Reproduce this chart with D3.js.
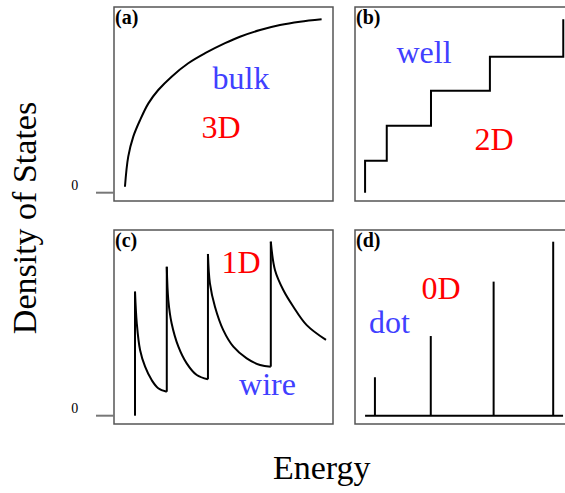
<!DOCTYPE html>
<html>
<head>
<meta charset="utf-8">
<script src="https://cdn.jsdelivr.net/npm/d3@7"></script>
<style>
  html, body { margin: 0; padding: 0; background: #fff; }
  svg { display: block; }
  text { font-family: "Liberation Serif", "Times New Roman", serif; }
</style>
</head>
<body>
<svg id="chart" width="565" height="493"></svg>
<script>
// Density of states vs. energy for bulk (3D), well (2D), wire (1D) and dot (0D).
// Energy and DOS are in arbitrary units: 0..100 across each panel.

// (a) bulk: smooth rising curve
const bulkEnergy = [5.0, 6.5, 8.8, 11.9, 15.7, 20.2, 26.3, 33.9, 41.6, 50.7, 57.5, 66.7, 75.8, 84.9, 94.8];
const bulkDos    = [3.2, 19.4, 30.2, 39.1, 48.1, 55.3, 62.5, 69.7, 75.1, 80.5, 84.0, 87.6, 90.3, 92.1, 93.4];

// (b) well: staircase, each step opens at a subband edge
const wellEdges  = [4.6, 4.6, 14.5, 34.7, 61.6, 95.1];
const wellLevels = [0, 17.2, 36.1, 54.9, 73.2, 93.4];

// (c) wire: subband onsets and the decaying tail after each one
const wireOnsets   = [9.6, 24.1, 42.9, 71.6];
const wireBases    = [0, 12.9, 19.6, 26.4];
const wirePeaks    = [66.8, 80.2, 87.1, 93.7];
const wireTailE = [
  [9.6, 10.4, 11.9, 14.2, 17.2, 20.2, 24.1],
  [24.1, 24.8, 26.3, 29.4, 33.2, 37.8, 42.9],
  [42.9, 43.8, 46.1, 49.9, 54.5, 60.6, 66.7, 71.6],
  [71.6, 73.5, 77.3, 81.9, 88.0, 96.8]
];
const wireTailDos = [
  [66.8, 49.8, 35.4, 26.4, 19.2, 14.8, 12.9],
  [80.2, 62.3, 49.8, 37.2, 28.2, 21.9, 19.6],
  [87.1, 71.3, 58.7, 46.1, 37.2, 30.9, 27.3, 26.4],
  [93.7, 78.5, 67.7, 58.7, 48.8, 40.8]
];

// (d) dot: discrete levels
const dotEnergy = [9.1, 34.6, 63.3, 90.5];
const dotDos    = [20.7, 42.9, 72.2, 93.7];
const dotBaseline = [4.6, 95.0];

const panelTags = ["(a)", "(b)", "(c)", "(d)"];
const zeroTick = "0";
const xTitle = "Energy";
const yTitle = "Density of States";

const BLUE = "#4040ff", RED = "#ff0000";

const svg = d3.select("#chart");

// panel layout
const colLeft = [114, 355], rowTop = [7, 230];
const pw = 219, ph = 194, zeroInset = 8.3;

function panel(col, row) {
  const x0 = colLeft[col], y0 = rowTop[row];
  const x = d3.scaleLinear().domain([0, 100]).range([x0, x0 + pw]);
  const y = d3.scaleLinear().domain([0, 100]).range([y0 + ph - zeroInset, y0]);
  const g = svg.append("g");
  g.append("rect")
    .attr("x", x0).attr("y", y0).attr("width", pw).attr("height", ph)
    .attr("fill", "none").attr("stroke", "#555").attr("stroke-width", 1.5);
  return { g, x, y, x0, y0 };
}

const pa = panel(0, 0), pb = panel(1, 0), pc = panel(0, 1), pd = panel(1, 1);

const curveStyle = sel => sel.attr("fill", "none").attr("stroke", "#000")
  .attr("stroke-width", 2).attr("stroke-linejoin", "round");

const smooth = d3.curveCatmullRom.alpha(0.5);

// (a)
pa.g.append("path")
  .datum(d3.zip(bulkEnergy, bulkDos))
  .attr("d", d3.line().x(d => pa.x(d[0])).y(d => pa.y(d[1])).curve(smooth))
  .call(curveStyle);

// (b)
pb.g.append("path")
  .datum(d3.zip(wellEdges, wellLevels))
  .attr("d", d3.line().x(d => pb.x(d[0])).y(d => pb.y(d[1])).curve(d3.curveStepAfter))
  .call(curveStyle).attr("stroke-linejoin", "miter");

// (c)
wireOnsets.forEach((e, i) => {
  pc.g.append("line")
    .attr("x1", pc.x(e)).attr("x2", pc.x(e))
    .attr("y1", pc.y(wireBases[i])).attr("y2", pc.y(wirePeaks[i]))
    .call(curveStyle);
  pc.g.append("path")
    .datum(d3.zip(wireTailE[i], wireTailDos[i]))
    .attr("d", d3.line().x(d => pc.x(d[0])).y(d => pc.y(d[1])).curve(smooth))
    .call(curveStyle);
});

// (d)
pd.g.append("line")
  .attr("x1", pd.x(dotBaseline[0])).attr("x2", pd.x(dotBaseline[1]))
  .attr("y1", pd.y(0)).attr("y2", pd.y(0))
  .call(curveStyle);
dotEnergy.forEach((e, i) => {
  pd.g.append("line")
    .attr("x1", pd.x(e)).attr("x2", pd.x(e))
    .attr("y1", pd.y(0)).attr("y2", pd.y(dotDos[i]))
    .call(curveStyle);
});

// panel tags
[pa, pb, pc, pd].forEach((p, i) => {
  p.g.append("text")
    .attr("x", p.x0 + 1).attr("y", p.y0 + 17)
    .attr("font-size", 20).attr("font-weight", "bold")
    .text(panelTags[i]);
});

// zero ticks on the left
[pa, pc].forEach(p => {
  svg.append("line")
    .attr("x1", p.x0 - 18).attr("x2", p.x0)
    .attr("y1", p.y(0)).attr("y2", p.y(0))
    .attr("stroke", "#777").attr("stroke-width", 2);
  svg.append("text")
    .attr("x", 74.7).attr("y", p.y(0) - 2.7)
    .attr("text-anchor", "middle").attr("font-size", 14)
    .text(zeroTick);
});

// in-panel labels
const labels = [
  { t: "bulk", x: 241, y: 88.5, c: BLUE },
  { t: "3D",   x: 221, y: 137.5, c: RED },
  { t: "well", x: 424, y: 63, c: BLUE },
  { t: "2D",   x: 494, y: 150, c: RED },
  { t: "1D",   x: 241, y: 273, c: RED },
  { t: "wire", x: 267.5, y: 395, c: BLUE },
  { t: "0D",   x: 441, y: 299, c: RED },
  { t: "dot",  x: 389.5, y: 333, c: BLUE }
];
svg.selectAll("text.lab").data(labels).join("text")
  .attr("class", "lab")
  .attr("x", d => d.x).attr("y", d => d.y)
  .attr("text-anchor", "middle").attr("font-size", 32)
  .attr("fill", d => d.c)
  .text(d => d.t);

// axis titles
svg.append("text")
  .attr("x", 321.7).attr("y", 479)
  .attr("text-anchor", "middle").attr("font-size", 34)
  .text(xTitle);
svg.append("text")
  .attr("transform", "translate(36,218) rotate(-90)")
  .attr("text-anchor", "middle").attr("font-size", 34)
  .text(yTitle);
</script>
</body>
</html>
